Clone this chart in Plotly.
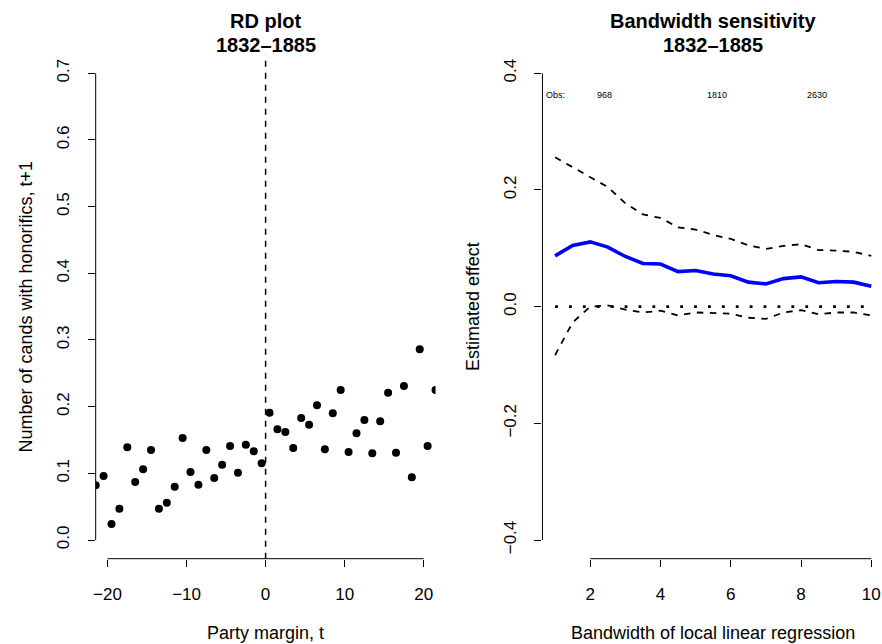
import plotly.graph_objects as go

# ---------------- data ----------------
# Left panel: binned RD plot
margin_bins = [-21.5, -20.5, -19.5, -18.5, -17.5, -16.5, -15.5, -14.5, -13.5, -12.5, -11.5,
               -10.5, -9.5, -8.5, -7.5, -6.5, -5.5, -4.5, -3.5, -2.5, -1.5, -0.5,
               0.5, 1.5, 2.5, 3.5, 4.5, 5.5, 6.5, 7.5, 8.5, 9.5, 10.5,
               11.5, 12.5, 13.5, 14.5, 15.5, 16.5, 17.5, 18.5, 19.5, 20.5, 21.5]
honorific_share = [0.082, 0.096, 0.024, 0.047, 0.139, 0.087, 0.106, 0.135, 0.047, 0.056, 0.080,
                   0.153, 0.102, 0.083, 0.135, 0.093, 0.113, 0.141, 0.101, 0.143, 0.133, 0.115,
                   0.191, 0.166, 0.162, 0.138, 0.183, 0.173, 0.202, 0.136, 0.190, 0.225, 0.132,
                   0.160, 0.180, 0.130, 0.178, 0.221, 0.131, 0.231, 0.094, 0.286, 0.141, 0.225]

# Right panel: bandwidth sensitivity
bandwidth = [1.0, 1.5, 2.0, 2.5, 3.0, 3.5, 4.0, 4.5, 5.0, 5.5,
             6.0, 6.5, 7.0, 7.5, 8.0, 8.5, 9.0, 9.5, 10.0]
estimate = [0.087, 0.105, 0.111, 0.102, 0.086, 0.074, 0.073, 0.060, 0.062, 0.056,
            0.053, 0.042, 0.039, 0.048, 0.051, 0.041, 0.043, 0.042, 0.035]
ci_upper = [0.256, 0.239, 0.223, 0.205, 0.177, 0.158, 0.152, 0.136, 0.132, 0.123,
            0.116, 0.105, 0.099, 0.104, 0.107, 0.097, 0.096, 0.094, 0.087]
ci_lower = [-0.083, -0.027, 0.000, 0.002, -0.005, -0.010, -0.007, -0.015, -0.010, -0.011,
            -0.012, -0.019, -0.021, -0.010, -0.006, -0.013, -0.010, -0.010, -0.015]

obs_labels = ["Obs:", "968", "1810", "2630"]
obs_x = [1.0, 2.4, 5.6, 8.45]
obs_y = 0.363

left_xticks = [-20, -10, 0, 10, 20]
left_xticktext = ["\u221220", "\u221210", "0", "10", "20"]
left_yticks = [0.0, 0.1, 0.2, 0.3, 0.4, 0.5, 0.6, 0.7]
left_yticktext = ["0.0", "0.1", "0.2", "0.3", "0.4", "0.5", "0.6", "0.7"]
right_xticks = [2, 4, 6, 8, 10]
right_xticktext = ["2", "4", "6", "8", "10"]
right_yticks = [-0.4, -0.2, 0.0, 0.2, 0.4]
right_yticktext = ["\u22120.4", "\u22120.2", "0.0", "0.2", "0.4"]

# ---------------- layout geometry ----------------
W, H = 882, 644
FONT = "Liberation Sans, Arial, Helvetica, sans-serif"
TICK_SIZE = 17
LAB_SIZE = 18

xdom1 = [93 / W, 434 / W]
xdom2 = [541.3 / W, 1.0]
ydom = [(H - 558.7) / H, (H - 54.6) / H]
xr1 = [-21.5, 21.5]
yr1 = [-0.028, 0.728]
xr2 = [0.64, 0.64 + (W - 541.3) / 35.25]
yr2 = [-0.432, 0.432]
right_center = (541.3 + 883.9) / 2 / W


def to_paper(dom, rng, v):
    return dom[0] + (v - rng[0]) / (rng[1] - rng[0]) * (dom[1] - dom[0])


def py(pix):
    return (H - pix) / H


fig = go.Figure()

fig.add_trace(go.Scatter(x=margin_bins, y=honorific_share, mode="markers",
                         marker=dict(color="black", size=8),
                         xaxis="x", yaxis="y", showlegend=False))

fig.add_trace(go.Scatter(x=bandwidth, y=[0.0] * len(bandwidth), mode="lines",
                         line=dict(color="black", width=2.8, dash="2.8px,11.1px"),
                         xaxis="x2", yaxis="y2", showlegend=False))
fig.add_trace(go.Scatter(x=bandwidth, y=ci_upper, mode="lines",
                         line=dict(color="black", width=1.8, dash="6.5px,6.5px"),
                         xaxis="x2", yaxis="y2", showlegend=False))
fig.add_trace(go.Scatter(x=bandwidth, y=ci_lower, mode="lines",
                         line=dict(color="black", width=1.8, dash="6.5px,6.5px"),
                         xaxis="x2", yaxis="y2", showlegend=False))
fig.add_trace(go.Scatter(x=bandwidth, y=estimate, mode="lines",
                         line=dict(color="#0000ff", width=3.6),
                         xaxis="x2", yaxis="y2", showlegend=False))

axis_common = dict(showgrid=False, zeroline=False, showline=False, ticks="outside",
                   ticklen=7, tickwidth=1, tickcolor="black",
                   tickfont=dict(family=FONT, size=TICK_SIZE, color="black"))

fig.update_layout(
    width=W, height=H,
    margin=dict(l=0, r=0, t=0, b=0),
    paper_bgcolor="white", plot_bgcolor="white",
    xaxis=dict(domain=xdom1, range=xr1, anchor="y", tickvals=left_xticks,
               ticktext=left_xticktext, ticklabelstandoff=13, **axis_common),
    yaxis=dict(domain=ydom, range=yr1, anchor="x", tickvals=left_yticks,
               ticktext=left_yticktext, tickangle=-90, ticklabelstandoff=12, **axis_common),
    xaxis2=dict(domain=xdom2, range=xr2, anchor="y2", tickvals=right_xticks,
                ticktext=right_xticktext, ticklabelstandoff=13, **axis_common),
    yaxis2=dict(domain=ydom, range=yr2, anchor="x2", tickvals=right_yticks,
                ticktext=right_yticktext, tickangle=-90, ticklabelstandoff=12, **axis_common),
)

shapes = []
# R-style axis lines spanning only first..last tick
for dom_x, rng_x, ticks_x in [(xdom1, xr1, left_xticks), (xdom2, xr2, right_xticks)]:
    shapes.append(dict(type="line", xref="paper", yref="paper",
                       x0=to_paper(dom_x, rng_x, ticks_x[0]), x1=to_paper(dom_x, rng_x, ticks_x[-1]),
                       y0=ydom[0], y1=ydom[0], line=dict(color="black", width=1)))
for dom_x, rng_y, ticks_y in [(xdom1, yr1, left_yticks), (xdom2, yr2, right_yticks)]:
    shapes.append(dict(type="line", xref="paper", yref="paper",
                       x0=dom_x[0], x1=dom_x[0],
                       y0=to_paper(ydom, rng_y, ticks_y[0]), y1=to_paper(ydom, rng_y, ticks_y[-1]),
                       line=dict(color="black", width=1)))
# cutoff line
shapes.append(dict(type="line", xref="x", yref="y", x0=0, x1=0, y0=yr1[0], y1=yr1[1],
                   line=dict(color="black", width=1.5, dash="6px,6px")))
fig.update_layout(shapes=shapes)

ann = []
for cx, l1, l2 in [((xdom1[0] + xdom1[1]) / 2, "RD plot", "1832\u20131885"),
                   (right_center, "Bandwidth sensitivity", "1832\u20131885")]:
    ann.append(dict(text="<b>%s</b>" % l1, x=cx, y=py(20.5), xref="paper", yref="paper",
                    showarrow=False, xanchor="center", yanchor="middle",
                    font=dict(family=FONT, size=20, color="black")))
    ann.append(dict(text="<b>%s</b>" % l2, x=cx, y=py(45.5), xref="paper", yref="paper",
                    showarrow=False, xanchor="center", yanchor="middle",
                    font=dict(family=FONT, size=20, color="black")))

ann.append(dict(text="Party margin, t", x=(xdom1[0] + xdom1[1]) / 2, y=py(633), xref="paper",
                yref="paper", showarrow=False, xanchor="center", yanchor="middle",
                font=dict(family=FONT, size=LAB_SIZE, color="black")))
ann.append(dict(text="Bandwidth of local linear regression", x=right_center, y=py(633),
                xref="paper", yref="paper", showarrow=False, xanchor="center", yanchor="middle",
                font=dict(family=FONT, size=LAB_SIZE, color="black")))
ann.append(dict(text="Number of cands with honorifics, t+1", x=23 / W, y=(ydom[0] + ydom[1]) / 2,
                xref="paper", yref="paper", showarrow=False, textangle=-90,
                xanchor="center", yanchor="middle",
                font=dict(family=FONT, size=LAB_SIZE, color="black")))
ann.append(dict(text="Estimated effect", x=471 / W, y=(ydom[0] + ydom[1]) / 2,
                xref="paper", yref="paper", showarrow=False, textangle=-90,
                xanchor="center", yanchor="middle",
                font=dict(family=FONT, size=LAB_SIZE, color="black")))
for lab, xv in zip(obs_labels, obs_x):
    ann.append(dict(text=lab, x=xv, y=obs_y, xref="x2", yref="y2", showarrow=False,
                    xanchor="center", yanchor="middle",
                    font=dict(family=FONT, size=9, color="black")))
fig.update_layout(annotations=ann)

fig.write_html("out.html")
